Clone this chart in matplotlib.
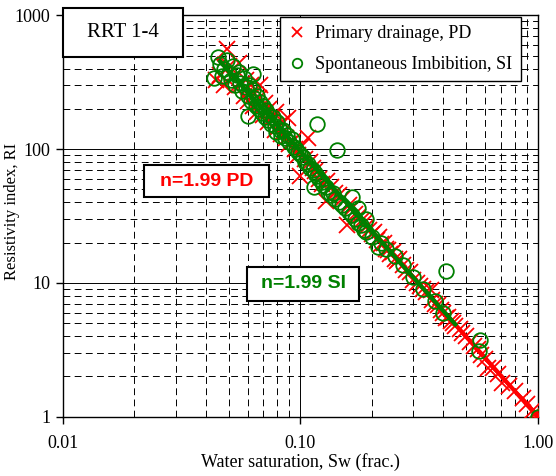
import matplotlib
matplotlib.use("Agg")
import matplotlib.pyplot as plt
from matplotlib.patches import Rectangle
from matplotlib.ticker import FixedLocator, FixedFormatter, LogLocator, NullFormatter

# ---- data ----
pd_sw = [0.044, 0.046, 0.048, 0.049, 0.050, 0.052, 0.053, 0.055, 0.056, 0.058,
         0.059, 0.060, 0.062, 0.063, 0.064, 0.066, 0.067, 0.068, 0.070, 0.071,
         0.073, 0.074, 0.076, 0.078, 0.079, 0.081, 0.083, 0.085, 0.087, 0.089,
         0.090, 0.093, 0.095, 0.098, 0.100, 0.102, 0.105, 0.108, 0.110, 0.113,
         0.116, 0.120, 0.124, 0.128, 0.130, 0.135, 0.140, 0.145, 0.150, 0.158,
         0.160, 0.165, 0.170, 0.175, 0.180, 0.185, 0.190, 0.195, 0.200, 0.205,
         0.210, 0.215, 0.220, 0.225, 0.230, 0.235, 0.240, 0.245, 0.250, 0.255,
         0.260, 0.270, 0.280, 0.290, 0.300, 0.310, 0.320, 0.330, 0.340, 0.355,
         0.360, 0.370, 0.380, 0.390, 0.400, 0.410, 0.420, 0.430, 0.440, 0.450,
         0.470, 0.480, 0.500, 0.520, 0.540, 0.560, 0.580, 0.600, 0.617, 0.650,
         0.680, 0.710, 0.760, 0.800, 0.864, 0.900, 0.950, 0.970, 0.980, 0.990,
         1.000, 1.000]
pd_ri = [330, 360, 300, 560, 420, 340, 290, 440, 300, 250,
         330, 230, 300, 210, 260, 190, 240, 300, 180, 220,
         160, 200, 170, 140, 190, 150, 130, 160, 120, 172,
         110, 115, 100, 90, 63, 105, 85, 122, 80, 72,
         68, 60, 55, 41, 58, 52, 47, 45, 42, 27,
         38, 36, 33, 31, 29, 28, 26, 25, 23, 24,
         21, 22, 19.5, 20, 18, 17.5, 16.5, 17, 15, 14.5,
         15, 13.5, 12.5, 12, 10.5, 10, 9.5, 9.0, 8.5, 8.8,
         7.4, 7.0, 6.8, 6.3, 6.0, 5.5, 5.6, 5.2, 5.0, 4.8,
         4.5, 4.2, 4.0, 3.6, 3.4, 3.2, 2.9, 2.7, 2.3, 2.3,
         2.1, 1.78, 1.7, 1.55, 1.38, 1.25, 1.1, 1.05, 1.08, 1.02,
         1.0, 1.04]

si_sw = [0.045, 0.046, 0.047, 0.048, 0.049, 0.050, 0.051, 0.052, 0.053, 0.054,
         0.055, 0.056, 0.057, 0.058, 0.059, 0.060, 0.061, 0.062, 0.063, 0.064,
         0.065, 0.066, 0.067, 0.068, 0.069, 0.070, 0.071, 0.072, 0.073, 0.074,
         0.075, 0.077, 0.078, 0.079, 0.080, 0.082, 0.083, 0.085, 0.086, 0.088,
         0.090, 0.092, 0.094, 0.096, 0.098, 0.100, 0.103, 0.105, 0.108, 0.110,
         0.113, 0.118, 0.115, 0.118, 0.120, 0.123, 0.125, 0.128, 0.131, 0.135,
         0.138, 0.143, 0.140, 0.145, 0.150, 0.155, 0.160, 0.165, 0.170, 0.175,
         0.180, 0.185, 0.190, 0.200, 0.212, 0.220, 0.230, 0.250, 0.270, 0.300,
         0.330, 0.370, 0.400, 0.410, 0.571, 0.569, 1.000, 0.0435, 0.0605, 0.063,
         0.114, 0.166, 0.175, 0.190]
si_ri = [490, 430, 350, 400, 460, 370, 330, 420, 300, 360,
         380, 310, 270, 340, 290, 250, 300, 230, 275, 240,
         210, 250, 200, 225, 185, 210, 175, 195, 165, 180,
         155, 175, 150, 135, 160, 140, 125, 140, 120, 128,
         112, 118, 104, 100, 95, 92, 88, 80, 78, 72,
         70, 155, 66, 63, 60, 57, 54, 52, 48, 45,
         47, 98, 42, 40, 38, 36, 34, 32, 30, 28,
         27, 25, 24, 22, 18.4, 20, 18, 16, 13.5, 11,
         9, 7.3, 6.0, 12.2, 3.75, 3.1, 1.0, 340, 178, 365,
         52, 44, 36, 30]

# fitted Archie lines, n = 1.99 (end points)
pd_fit_sw = [0.045, 1.0]
pd_fit_ri = [473, 1.0]
si_fit_sw = [0.046, 0.45]
si_fit_ri = [453, 4.9]

x_ticks = [0.01, 0.1, 1.0]
x_labels = ["0.01", "0.10", "1.00"]
y_ticks = [1, 10, 100, 1000]
y_labels = ["1", "10", "100", "1000"]

red = "#ff0000"
green = "#008000"
serif = "Liberation Serif"
sans = "Liberation Sans"

fig = plt.figure(figsize=(5.56, 4.76), dpi=100)
ax = fig.add_axes([0.1128, 0.1246, 0.8542, 0.8433])
ax.set_xscale("log")
ax.set_yscale("log")
ax.set_xlim(0.01, 1.0)
ax.set_ylim(1, 1000)

# grid
ax.xaxis.set_minor_locator(LogLocator(base=10, subs=range(2, 10)))
ax.yaxis.set_minor_locator(LogLocator(base=10, subs=range(2, 10)))
ax.xaxis.set_minor_formatter(NullFormatter())
ax.yaxis.set_minor_formatter(NullFormatter())
ax.grid(which="major", color="black", lw=0.7, ls="-", zorder=0)
ax.grid(which="minor", color="black", lw=0.7, ls=(0, (7, 4.5)), zorder=0)
ax.set_axisbelow(True)

ax.xaxis.set_major_locator(FixedLocator(x_ticks))
ax.xaxis.set_major_formatter(FixedFormatter(x_labels))
ax.yaxis.set_major_locator(FixedLocator(y_ticks))
ax.yaxis.set_major_formatter(FixedFormatter(y_labels))
ax.tick_params(which="major", direction="out", length=5, width=1, labelsize=13, color="black")
ax.tick_params(axis="x", pad=8)
ax.tick_params(axis="y", pad=4)
ax.tick_params(which="minor", length=0)
for lab in ax.get_xticklabels() + ax.get_yticklabels():
    lab.set_fontfamily(serif)
for sp in ax.spines.values():
    sp.set_color("black")
    sp.set_linewidth(1.0)

# data
ax.plot(pd_sw, pd_ri, ls="none", marker="x", ms=11, mew=1.3, color=red,
        label="Primary drainage, PD", zorder=3)
ax.plot(pd_fit_sw, pd_fit_ri, color=red, lw=3, zorder=4)
ax.plot(si_sw, si_ri, ls="none", marker="o", ms=10.5, mew=1.3, mfc="none", mec=green,
        label="Spontaneous Imbibition, SI", zorder=5)
ax.plot(si_fit_sw, si_fit_ri, color=green, lw=3, zorder=6)

ax.set_xlabel("Water saturation, Sw (frac.)", fontsize=13, family=serif)
ax.set_ylabel("Resistivity index, RI", fontsize=12, family=serif)
ax.xaxis.set_label_coords(0.5, -0.113)
ax.xaxis.label.set_va("center")
ax.yaxis.set_label_coords(-0.107, 0.512)
ax.yaxis.label.set_va("center")

leg = ax.legend(loc="upper right", bbox_to_anchor=(520.7 / 556, 1 - 16.7 / 476),
                bbox_transform=fig.transFigure, borderaxespad=0, fancybox=False,
                framealpha=1, edgecolor="black", markerscale=0.65, handlelength=1.0,
                handletextpad=0.5, borderpad=0.45, labelspacing=0.8,
                prop={"family": serif, "size": 13})
leg.get_frame().set_linewidth(1.0)
leg.set_zorder(10)


def fig_box(x0, y0, x1, y1, text, color, family, weight, size):
    # box given in pixel coordinates from top-left corner
    W, H = 556, 476
    rect = Rectangle((x0 / W, 1 - y1 / H), (x1 - x0) / W, (y1 - y0) / H,
                     transform=fig.transFigure, facecolor="white", edgecolor="black",
                     lw=1.5, zorder=20)
    fig.patches.append(rect)
    fig.text((x0 + x1) / 2 / W, 1 - (y0 + y1) / 2 / H, text, color=color,
             family=family, weight=weight, fontsize=size, ha="center", va="center",
             zorder=21)


fig_box(63, 8, 183, 57, "RRT 1-4", "black", serif, "normal", 15)
fig_box(144, 165, 269, 197, "n=1.99 PD", red, sans, "bold", 14)
fig_box(247, 267, 359, 301, "n=1.99 SI", green, sans, "bold", 14)

fig.savefig("out.png", dpi=100)
